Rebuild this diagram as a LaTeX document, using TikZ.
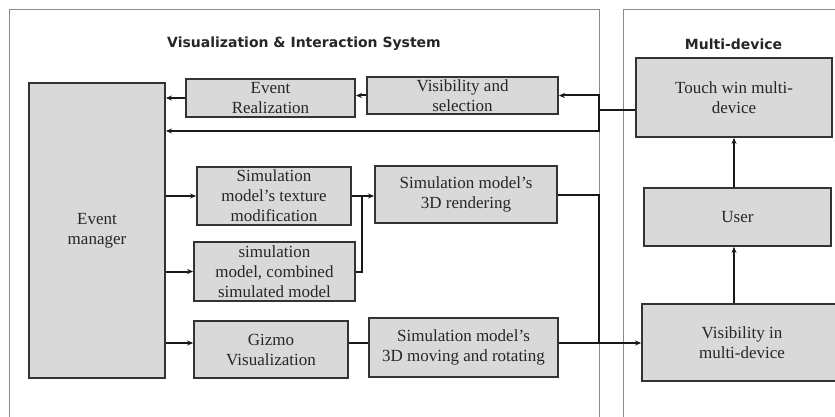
\documentclass[tikz,border=0pt]{standalone}
\usepackage{fontspec}
\setmainfont{Liberation Serif}
\newfontfamily\titlefont{DejaVu Sans}
\usetikzlibrary{arrows.meta}

\begin{document}
\begin{tikzpicture}[x=1pt,y=-1pt,
  blk/.style={draw=black!80, fill=black!15, line width=1.8pt, inner sep=0pt,
    align=center, font=\fontsize{17}{20}\selectfont, text=black!85},
  link/.style={line width=2pt, draw=black!90},
  arr/.style={link, -{Stealth[length=6pt,width=5pt]}},
  frame/.style={draw=black!45, line width=1pt},
  ttl/.style={font=\titlefont\bfseries\fontsize{14}{16}\selectfont, text=black!85}]
\useasboundingbox (0,0) rectangle (835,417);
\fill[white] (0,0) rectangle (835,417);

% panel frames
\draw[frame] (9,430) -- (9,10) -- (599,10) -- (599,430);
\draw[frame] (623,430) -- (623,10) -- (850,10);
\node[ttl] (t1) at (304,44) {Visualization \& Interaction System};
\node[ttl] (t2) at (733.5,44) {Multi-device};

% blocks
\node[blk, minimum width=136pt, minimum height=295pt] (em) at (97,230.5) {Event\\manager};
\node[blk, minimum width=169pt, minimum height=38pt] (er) at (270.5,98) {Event\\Realization};
\node[blk, minimum width=191pt, minimum height=37pt] (vs) at (462.5,95.5) {Visibility and\\selection};
\node[blk, minimum width=154pt, minimum height=58pt] (tx) at (274,196) {Simulation\\model's texture\\modification};
\node[blk, minimum width=182pt, minimum height=57pt] (rd) at (466,194.5) {Simulation model's\\3D rendering};
\node[blk, minimum width=161pt, minimum height=59pt] (cb) at (274.5,271.5) {simulation\\model, combined\\simulated model};
\node[blk, minimum width=154pt, minimum height=57pt] (gz) at (271,349.5) {Gizmo\\Visualization};
\node[blk, minimum width=189pt, minimum height=59pt] (mv) at (463.5,347.5) {Simulation model's\\3D moving and rotating};
\node[blk, minimum width=196pt, minimum height=79pt] (tw) at (734,97.5) {Touch win multi-\\device};
\node[blk, minimum width=187pt, minimum height=58pt] (us) at (737.5,217) {User};
\node[blk, minimum width=200pt, minimum height=77pt] (vm) at (742,342.5) {Visibility in\\multi-device};

% junction points
\coordinate (ja) at (599,110);
\coordinate (jb) at (599,131);
\coordinate (jc) at (362,271.5);
\coordinate (jd) at (599,343);

% touch input to the system
\draw[link] ([yshift=-12.5pt]tw.west) -- (ja);
\draw[arr] (ja) |- (vs.east);
\draw[arr] (ja) -- (jb) -- (jb -| em.east);
\draw[arr] (vs.west) -- (vs.west -| er.east);
\draw[arr] (er.west) -- (er.west -| em.east);

% event manager outputs
\draw[arr] (em.east |- tx.west) -- (tx.west);
\draw[arr] (em.east |- cb.west) -- (cb.west);
\draw[arr] (em.east |- jd) -- (gz.west |- jd);
\draw[arr] (tx.east) -- (tx.east -| rd.west);
\draw[link] (cb.east) -- (jc) -- (jc |- tx.east);
\draw[link] (gz.east |- jd) -- (mv.west |- jd);

% outputs to the multi-device
\draw[link] (rd.east) -| (jd);
\draw[arr] (mv.east |- jd) -- (jd -| vm.west);
\draw[arr] (tw.center |- vm.north) -- (tw.center |- us.south);
\draw[arr] (tw.center |- us.north) -- (tw.south);
\end{tikzpicture}
\end{document}
